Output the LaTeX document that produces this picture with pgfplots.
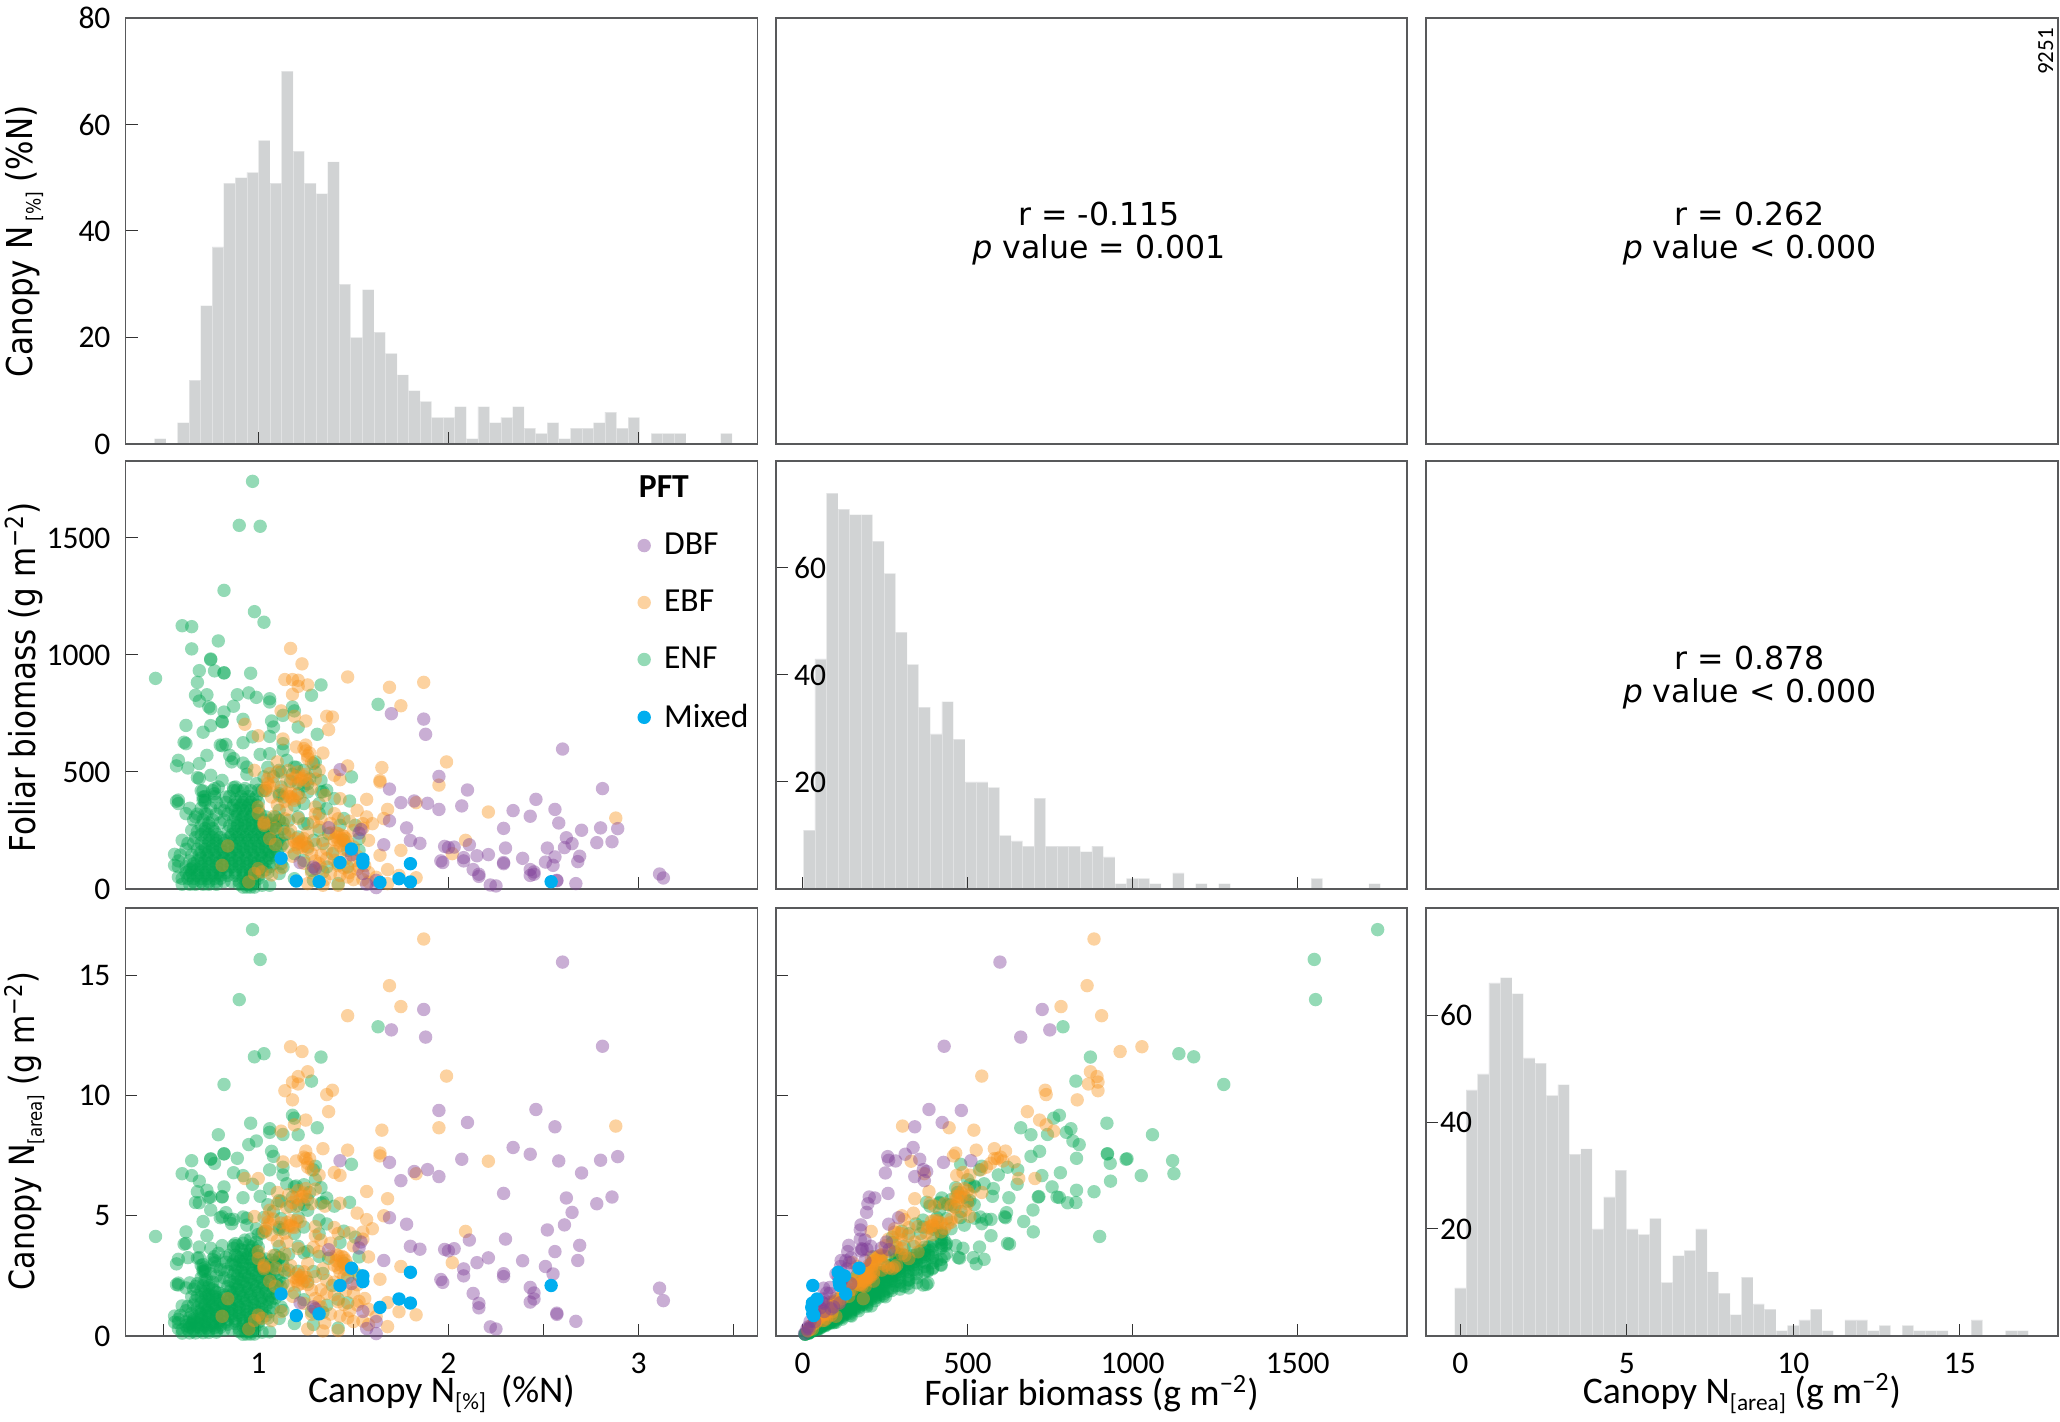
\documentclass[border=0pt]{standalone}
\usepackage{fontspec}
\usepackage{graphicx}
\usepackage{pgfplots}
\usepackage{pgfplotstable}
\pgfplotsset{compat=1.18}
\setmainfont{Carlito}
\newfontfamily\dejavu{DejaVu Sans}

\definecolor{histgrey}{HTML}{D1D3D4}
\definecolor{axgrey}{HTML}{58595B}
\definecolor{dbfcol}{HTML}{7F3F98}
\definecolor{ebfcol}{HTML}{F7941D}
\definecolor{enfcol}{HTML}{00A651}
\definecolor{mixcol}{HTML}{00AEEF}

% columns: canopy N %, foliar biomass, canopy N area
\pgfplotstableread[row sep=\\]{
n b a\\
0.97 1742 16.90\\ 0.90 1554 13.99\\ 1.01 1550 15.66\\ 0.82 1276 10.46\\ 0.98 1185 11.61\\ 1.03 1140 11.74\\
0.60 1125 6.75\\ 0.65 1121 7.29\\ 0.79 1060 8.37\\ 0.65 1026 6.67\\ 0.75 980 7.35\\ 0.75 983 7.37\\
0.69 933 6.44\\ 0.77 932 7.18\\ 0.82 923 7.57\\ 0.82 924 7.58\\ 0.96 922 8.85\\ 0.46 900 4.14\\
0.68 883 6.00\\ 1.33 872 11.60\\ 0.67 828 5.55\\ 0.73 830 6.06\\ 0.89 830 7.39\\ 0.95 838 7.96\\
0.99 819 8.11\\ 1.06 813 8.62\\ 1.06 799 8.47\\ 1.28 828 10.60\\ 0.69 803 5.54\\ 0.74 778 5.76\\
0.75 771 5.78\\ 0.82 756 6.20\\ 0.87 781 6.79\\ 1.63 789 12.86\\ 1.18 778 9.18\\ 1.19 761 9.06\\
0.92 725 6.67\\ 1.07 718 7.68\\ 0.81 714 5.78\\ 0.81 716 5.80\\ 0.62 699 4.33\\ 0.75 698 5.24\\
1.13 742 8.38\\ 1.21 692 8.37\\ 1.08 692 7.47\\ 0.71 670 4.76\\ 0.97 650 6.31\\ 0.92 625 5.75\\
1.31 661 8.66\\ 1.06 652 6.91\\ 0.61 627 3.82\\ 0.62 621 3.85\\ 0.80 615 4.92\\ 0.83 618 5.13\\
0.81 612 4.96\\ 1.13 621 7.02\\ 0.73 571 4.17\\ 0.85 571 4.85\\ 0.58 550 3.19\\ 0.69 536 3.70\\
0.57 526 3.00\\ 0.63 517 3.26\\ 0.87 557 4.85\\ 0.86 543 4.67\\ 0.92 538 4.95\\ 0.94 521 4.90\\
1.01 575 5.81\\ 1.06 578 6.13\\ 1.13 593 6.70\\ 1.29 536 6.91\\ 0.68 476 3.24\\ 0.69 472 3.26\\
0.75 486 3.65\\ 0.81 464 3.76\\ 0.94 490 4.61\\ 1.12 500 5.60\\ 1.49 479 7.14\\ 1.33 464 6.17\\
0.87 433 3.77\\ 0.89 422 3.76\\ 0.71 419 2.97\\ 0.77 429 3.30\\ 0.77 407 3.13\\ 0.57 375 2.14\\
0.58 380 2.20\\ 0.71 379 2.69\\ 1.34 415 5.56\\ 1.40 386 5.40\\ 1.48 376 5.56\\ 1.45 301 4.36\\
1.51 272 4.11\\ 1.32 322 4.25\\ 1.24 365 4.53\\ 1.26 415 5.23\\ 1.21 407 4.92\\ 1.12 436 4.88\\
1.11 336 3.73\\ 1.11 293 3.25\\ 1.16 236 2.74\\ 1.24 279 3.46\\ 1.29 208 2.68\\ 1.34 194 2.60\\
1.43 272 3.89\\ 1.53 215 3.29\\ 1.47 165 2.43\\ 1.36 94 1.28\\ 1.42 23 0.33\\ 1.06 16 0.17\\
1.02 16 0.16\\ 1.28 80 1.02\\ 1.11 66 0.73\\ 1.12 108 1.21\\ 1.07 144 1.54\\ 1.11 400 4.44\\
1.20 520 6.24\\ 1.17 460 5.38\\ 1.08 480 5.18\\ 1.05 520 5.46\\ 1.15 550 6.33\\ 1.18 490 5.78\\
1.24 440 5.46\\ 1.27 470 5.97\\ 1.30 500 6.50\\
0.60 20 0.12\\ 0.64 20 0.13\\ 0.67 20 0.13\\ 0.71 20 0.14\\ 0.74 20 0.15\\ 0.78 20 0.16\\ 0.90 20 0.18\\ 0.93 20 0.19\\ 0.95 20 0.19\\ 0.97 20 0.19\\
0.60 45 0.27\\ 0.63 45 0.28\\ 0.66 45 0.30\\ 0.70 45 0.32\\ 0.73 45 0.33\\ 0.77 45 0.35\\ 0.80 45 0.36\\ 0.92 45 0.41\\ 0.95 45 0.43\\ 0.97 45 0.44\\ 1.00 45 0.45\\
0.62 70 0.43\\ 0.65 70 0.46\\ 0.69 70 0.48\\ 0.72 70 0.50\\ 0.76 70 0.53\\ 0.79 70 0.55\\ 0.83 70 0.58\\ 0.88 70 0.62\\ 0.92 70 0.64\\ 0.96 70 0.67\\ 1.00 70 0.70\\ 1.05 70 0.74\\
0.58 95 0.55\\ 0.62 95 0.59\\ 0.66 95 0.63\\ 0.70 95 0.67\\ 0.74 95 0.70\\ 0.78 95 0.74\\ 0.82 95 0.78\\ 0.86 95 0.82\\ 0.90 95 0.86\\ 0.94 95 0.89\\ 0.98 95 0.93\\ 1.02 95 0.97\\ 1.06 95 1.01\\
0.58 120 0.70\\ 0.64 120 0.77\\ 0.68 120 0.82\\ 0.72 120 0.86\\ 0.76 120 0.91\\ 0.80 120 0.96\\ 0.84 120 1.01\\ 0.88 120 1.06\\ 0.92 120 1.10\\ 0.96 120 1.15\\ 1.00 120 1.20\\ 1.04 120 1.25\\
0.59 145 0.86\\ 0.65 145 0.94\\ 0.69 145 1.00\\ 0.73 145 1.06\\ 0.77 145 1.12\\ 0.81 145 1.17\\ 0.85 145 1.23\\ 0.89 145 1.29\\ 0.93 145 1.35\\ 0.97 145 1.41\\ 1.01 145 1.46\\ 1.05 145 1.52\\ 1.09 145 1.58\\
0.62 170 1.05\\ 0.68 170 1.16\\ 0.72 170 1.22\\ 0.76 170 1.29\\ 0.80 170 1.36\\ 0.84 170 1.43\\ 0.88 170 1.50\\ 0.92 170 1.56\\ 0.96 170 1.63\\ 1.00 170 1.70\\ 1.04 170 1.77\\
0.63 195 1.23\\ 0.66 195 1.29\\ 0.70 195 1.37\\ 0.74 195 1.44\\ 0.78 195 1.52\\ 0.82 195 1.60\\ 0.86 195 1.68\\ 0.90 195 1.76\\ 0.94 195 1.83\\ 0.98 195 1.91\\ 1.02 195 1.99\\ 1.06 195 2.07\\ 1.10 195 2.15\\
0.67 220 1.47\\ 0.72 220 1.58\\ 0.76 220 1.67\\ 0.80 220 1.76\\ 0.85 220 1.87\\ 0.89 220 1.96\\ 0.93 220 2.05\\ 0.97 220 2.13\\ 1.01 220 2.22\\ 1.05 220 2.31\\
0.68 245 1.67\\ 0.72 245 1.76\\ 0.77 245 1.89\\ 0.84 245 2.06\\ 0.88 245 2.16\\ 0.92 245 2.25\\ 0.96 245 2.35\\ 1.00 245 2.45\\ 1.04 245 2.55\\ 1.08 245 2.65\\
0.70 270 1.89\\ 0.74 270 2.00\\ 0.85 270 2.30\\ 0.89 270 2.40\\ 0.93 270 2.51\\ 0.97 270 2.62\\ 1.01 270 2.73\\ 1.05 270 2.84\\ 1.09 270 2.94\\
0.66 295 1.95\\ 0.71 295 2.09\\ 0.76 295 2.24\\ 0.82 295 2.42\\ 0.87 295 2.57\\ 0.91 295 2.68\\ 0.95 295 2.80\\ 0.99 295 2.92\\ 1.03 295 3.04\\ 1.07 295 3.16\\ 1.11 295 3.27\\
0.68 320 2.18\\ 0.73 320 2.34\\ 0.78 320 2.50\\ 0.84 320 2.69\\ 0.89 320 2.85\\ 0.93 320 2.98\\ 0.97 320 3.10\\ 1.01 320 3.23\\
0.64 345 2.21\\ 0.70 345 2.42\\ 0.75 345 2.59\\ 0.80 345 2.76\\ 0.86 345 2.97\\ 0.90 345 3.11\\ 0.94 345 3.24\\ 0.98 345 3.38\\
0.72 370 2.66\\ 0.78 370 2.89\\ 0.83 370 3.07\\ 0.89 370 3.29\\ 0.92 370 3.40\\ 0.96 370 3.55\\ 1.00 370 3.70\\
0.72 395 2.84\\ 0.77 395 3.04\\ 0.85 395 3.36\\ 0.91 395 3.59\\ 0.95 395 3.75\\ 0.99 395 3.91\\
0.70 420 2.94\\ 0.76 420 3.19\\ 0.87 420 3.65\\ 0.92 420 3.86\\ 0.96 420 4.03\\ 1.02 420 4.28\\ 1.04 420 4.37\\
0.92 8 0.07\\ 0.94 8 0.08\\ 0.96 8 0.08\\ 0.98 8 0.08\\
0.66 32 0.21\\ 0.70 32 0.22\\ 0.74 32 0.24\\ 0.78 32 0.25\\ 0.82 32 0.26\\ 0.86 32 0.28\\ 0.90 32 0.29\\ 0.94 32 0.30\\ 0.98 32 0.31\\
0.64 58 0.37\\ 0.68 58 0.39\\ 0.72 58 0.42\\ 0.76 58 0.44\\ 0.80 58 0.46\\ 0.84 58 0.49\\ 0.88 58 0.51\\ 0.92 58 0.53\\ 0.96 58 0.56\\ 1.00 58 0.58\\
0.64 82 0.52\\ 0.68 82 0.56\\ 0.72 82 0.59\\ 0.76 82 0.62\\ 0.80 82 0.66\\ 0.84 82 0.69\\ 0.88 82 0.72\\ 0.92 82 0.75\\ 0.96 82 0.79\\ 1.00 82 0.82\\ 1.04 82 0.85\\
0.66 108 0.71\\ 0.70 108 0.76\\ 0.74 108 0.80\\ 0.78 108 0.84\\ 0.82 108 0.89\\ 0.86 108 0.93\\ 0.90 108 0.97\\ 0.94 108 1.02\\ 0.98 108 1.06\\ 1.02 108 1.10\\ 1.08 108 1.17\\
0.70 132 0.92\\ 0.74 132 0.98\\ 0.78 132 1.03\\ 0.82 132 1.08\\ 0.86 132 1.14\\ 0.90 132 1.19\\ 0.94 132 1.24\\ 0.98 132 1.29\\ 1.02 132 1.35\\ 1.06 132 1.40\\
0.70 158 1.11\\ 0.74 158 1.17\\ 0.78 158 1.23\\ 0.82 158 1.30\\ 0.86 158 1.36\\ 0.90 158 1.42\\ 0.94 158 1.49\\ 0.98 158 1.55\\ 1.02 158 1.61\\ 1.06 158 1.67\\ 1.10 158 1.74\\
0.72 182 1.31\\ 0.76 182 1.38\\ 0.80 182 1.46\\ 0.84 182 1.53\\ 0.88 182 1.60\\ 0.92 182 1.67\\ 0.96 182 1.75\\ 1.00 182 1.82\\ 1.04 182 1.89\\ 1.08 182 1.97\\ 1.12 182 2.04\\
0.74 208 1.54\\ 0.78 208 1.62\\ 0.82 208 1.71\\ 0.87 208 1.81\\ 0.91 208 1.89\\ 0.95 208 1.98\\ 0.99 208 2.06\\ 1.03 208 2.14\\ 1.07 208 2.23\\ 1.11 208 2.31\\
0.70 232 1.62\\ 0.74 232 1.72\\ 0.78 232 1.81\\ 0.86 232 2.00\\ 0.90 232 2.09\\ 0.94 232 2.18\\ 0.98 232 2.27\\ 1.02 232 2.37\\ 1.06 232 2.46\\ 1.10 232 2.55\\ 1.14 232 2.64\\
0.72 258 1.86\\ 0.76 258 1.96\\ 0.87 258 2.24\\ 0.91 258 2.35\\ 0.95 258 2.45\\ 0.99 258 2.55\\ 1.03 258 2.66\\ 1.07 258 2.76\\ 1.13 258 2.92\\
0.74 282 2.09\\ 0.80 282 2.26\\ 0.89 282 2.51\\ 0.93 282 2.62\\ 0.97 282 2.74\\ 1.01 282 2.85\\ 1.05 282 2.96\\ 1.09 282 3.07\\ 1.13 282 3.19\\
0.88 308 2.71\\ 0.92 308 2.83\\ 0.96 308 2.96\\ 1.00 308 3.08\\ 1.04 308 3.20\\ 1.09 308 3.36\\
0.82 335 2.75\\ 0.88 335 2.95\\ 0.92 335 3.08\\ 0.96 335 3.22\\ 1.00 335 3.35\\
0.87 358 3.11\\ 0.91 358 3.26\\ 0.95 358 3.40\\ 0.99 358 3.54\\
0.88 382 3.36\\ 0.93 382 3.55\\ 0.97 382 3.71\\
0.79 436 3.44\\ 0.72 379 2.73\\ 0.83 393 3.26\\ 0.88 436 3.84\\ 0.93 429 3.99\\ 0.99 450 4.46\\ 1.03 479 4.93\\ 1.00 422 4.22\\
1.11 507 5.63\\ 1.19 521 6.20\\ 1.24 507 6.29\\ 1.30 543 7.06\\ 1.21 450 5.45\\ 1.26 450 5.67\\ 1.33 415 5.52\\ 1.36 422 5.74\\
1.32 365 4.82\\ 1.36 343 4.66\\ 1.13 393 4.44\\ 1.19 358 4.26\\ 1.11 407 4.52\\ 1.21 308 3.73\\ 1.26 279 3.52\\ 1.16 293 3.40\\
1.32 251 3.31\\ 1.37 236 3.23\\ 1.21 222 2.69\\ 1.26 179 2.26\\ 1.13 194 2.19\\ 1.19 151 1.80\\ 1.24 122 1.51\\ 1.13 94 1.06\\
1.19 44 0.52\\ 1.29 37 0.48\\ 1.34 73 0.98\\ 1.42 108 1.53\\ 1.47 94 1.38\\ 1.45 208 3.02\\ 1.39 151 2.10\\ 1.53 165 2.52\\
0.58 365 2.12\\ 0.62 322 2.00\\ 0.67 308 2.06\\ 0.72 322 2.32\\ 0.65 251 1.63\\ 0.60 208 1.25\\ 0.56 148 0.83\\ 0.56 101 0.57\\
0.58 51 0.30\\ 0.65 87 0.57\\ 0.71 393 2.79\\
}\enfdata

\pgfplotstableread[row sep=\\]{
n b a\\
1.17 1028 12.03\\ 1.23 962 11.83\\ 1.47 906 13.32\\ 1.87 883 16.51\\ 1.69 862 14.57\\ 1.75 783 13.70\\
1.14 895 10.20\\ 1.18 895 10.56\\ 1.21 892 10.79\\ 1.21 866 10.48\\ 1.26 872 10.99\\ 1.18 832 9.82\\
1.12 761 8.52\\ 1.19 738 8.78\\ 1.25 718 8.98\\ 1.36 738 10.04\\ 1.39 735 10.22\\ 1.37 681 9.33\\
0.93 704 6.55\\ 1.00 655 6.55\\ 1.13 641 7.24\\ 1.20 607 7.28\\ 1.25 615 7.69\\ 1.27 581 7.38\\
1.34 581 7.79\\ 1.26 557 7.02\\ 0.98 507 4.97\\ 1.10 543 5.97\\ 1.47 526 7.73\\ 1.65 519 8.56\\
1.99 543 10.81\\ 1.64 464 7.61\\ 1.64 457 7.49\\ 1.95 444 8.66\\ 1.43 467 6.68\\ 1.40 486 6.80\\
1.32 507 6.69\\ 1.16 507 5.88\\ 1.23 472 5.81\\ 1.25 464 5.80\\ 1.15 464 5.34\\ 1.05 450 4.73\\
1.06 493 5.23\\ 1.17 393 4.60\\ 1.19 379 4.51\\ 1.07 393 4.21\\ 1.00 350 3.50\\ 1.43 386 5.52\\
1.57 383 6.01\\ 1.83 369 6.75\\ 1.68 340 5.71\\ 1.52 336 5.11\\ 2.21 329 7.27\\ 1.57 308 4.84\\
1.66 301 5.00\\ 2.88 303 8.73\\ 1.60 279 4.46\\ 1.55 279 4.32\\ 1.40 322 4.51\\ 1.21 301 3.64\\
1.29 286 3.69\\ 1.03 279 2.87\\ 1.03 272 2.80\\ 1.32 265 3.50\\ 1.42 236 3.35\\ 1.44 215 3.10\\
1.43 207 2.96\\ 1.46 190 2.77\\ 1.45 225 3.26\\ 1.41 222 3.13\\ 1.47 200 2.94\\ 1.20 215 2.58\\
1.22 200 2.44\\ 1.24 185 2.29\\ 1.21 195 2.36\\ 1.23 178 2.19\\ 2.09 208 4.35\\ 2.02 151 3.05\\
1.75 165 2.89\\ 1.58 208 3.29\\ 1.64 144 2.36\\ 1.34 208 2.79\\ 1.33 144 1.92\\ 1.40 123 1.72\\
1.32 108 1.43\\ 1.38 66 0.91\\ 1.43 58 0.83\\ 1.68 83 1.39\\ 1.83 48 0.88\\ 1.74 58 1.01\\
1.68 23 0.39\\ 1.53 94 1.44\\ 1.47 51 0.75\\ 1.42 16 0.23\\ 1.34 16 0.21\\ 1.26 23 0.29\\
0.98 66 0.65\\ 1.02 73 0.74\\ 0.95 30 0.29\\ 1.00 87 0.87\\ 0.84 184 1.55\\ 0.81 101 0.82\\
1.06 215 2.28\\ 1.00 322 3.22\\ 1.12 420 4.70\\ 1.20 450 5.40\\ 1.28 430 5.50\\ 1.17 410 4.80\\
1.22 390 4.76\\ 1.10 360 3.96\\ 1.15 340 3.91\\ 1.30 350 4.55\\ 1.35 400 5.40\\ 1.30 470 6.11\\
1.03 420 4.33\\ 1.08 310 3.35\\ 1.17 250 2.93\\ 1.26 240 3.02\\ 1.30 190 2.47\\ 1.36 170 2.31\\
1.28 150 1.92\\ 1.40 160 2.24\\ 1.50 180 2.70\\ 1.52 140 2.13\\ 1.56 100 1.56\\ 1.58 70 1.11\\
1.50 120 1.80\\ 1.45 90 1.31\\ 1.62 50 0.81\\ 1.18 140 1.65\\ 1.24 110 1.36\\ 1.28 70 0.90\\
1.12 90 1.01\\ 1.07 60 0.64\\ 1.35 40 0.54\\ 1.55 40 0.62\\
1.20 190 2.28\\ 1.23 205 2.52\\ 1.25 195 2.44\\ 1.21 175 2.12\\ 1.24 215 2.67\\ 1.19 205 2.44\\
1.42 200 2.84\\ 1.44 230 3.31\\ 1.46 215 3.14\\ 1.40 210 2.94\\ 1.43 185 2.65\\ 1.45 170 2.47\\ 1.41 240 3.38\\
1.20 480 5.76\\ 1.22 465 5.67\\ 1.24 480 5.95\\ 1.18 470 5.55\\ 1.25 490 6.13\\ 1.21 500 6.05\\
1.16 395 4.58\\ 1.18 385 4.54\\ 1.15 410 4.72\\ 1.20 400 4.80\\ 1.14 375 4.28\\
1.05 470 4.94\\ 1.06 440 4.66\\ 1.04 430 4.47\\ 1.08 450 4.86\\ 1.10 500 5.50\\
1.26 570 7.18\\ 1.25 590 7.38\\ 1.24 600 7.44\\ 1.28 540 6.91\\ 1.03 285 2.94\\
1.30 320 4.16\\ 1.33 300 3.99\\ 1.38 280 3.86\\ 1.42 300 4.26\\ 1.48 290 4.29\\ 1.55 260 4.03\\ 1.50 250 3.75\\ 1.38 240 3.31\\
1.48 70 1.04\\ 1.50 40 0.60\\ 1.52 85 1.29\\ 1.58 30 0.47\\ 1.46 130 1.90\\ 1.33 90 1.20\\ 1.30 120 1.56\\ 1.36 130 1.77\\
1.42 100 1.42\\ 1.26 170 2.14\\ 1.16 180 2.09\\ 1.09 190 2.07\\ 1.14 240 2.74\\ 1.09 260 2.83\\ 1.14 300 3.42\\
}\ebfdata

\pgfplotstableread[row sep=\\]{
n b a\\
1.70 749 12.73\\ 1.87 726 13.58\\ 1.88 661 12.43\\ 2.60 598 15.55\\ 2.81 429 12.05\\ 1.95 481 9.38\\
2.10 423 8.88\\ 1.69 427 7.22\\ 1.43 510 7.29\\ 1.75 369 6.46\\ 1.82 376 6.84\\ 1.89 366 6.92\\
1.95 340 6.63\\ 2.07 355 7.35\\ 2.34 335 7.84\\ 2.46 383 9.42\\ 2.56 340 8.70\\ 2.43 311 7.56\\
2.58 282 7.28\\ 2.29 259 5.93\\ 2.70 251 6.78\\ 2.80 261 7.31\\ 2.89 258 7.46\\ 1.69 291 4.92\\
1.78 261 4.65\\ 1.37 262 3.59\\ 1.54 254 3.91\\ 1.53 239 3.66\\ 1.80 207 3.73\\ 1.85 195 3.61\\
1.66 189 3.14\\ 1.98 182 3.60\\ 2.00 177 3.54\\ 2.03 179 3.63\\ 2.11 189 3.99\\ 2.62 219 5.74\\
2.61 177 4.62\\ 2.65 194 5.14\\ 2.78 198 5.50\\ 2.86 202 5.78\\ 2.30 175 4.03\\ 2.52 175 4.41\\
2.08 134 2.79\\ 2.15 142 3.05\\ 2.21 147 3.25\\ 2.39 131 3.13\\ 2.69 140 3.77\\ 2.56 137 3.51\\
2.51 115 2.89\\ 2.55 101 2.58\\ 2.68 117 3.14\\ 1.97 113 2.23\\ 1.96 120 2.35\\ 2.08 120 2.50\\
2.29 113 2.59\\ 2.29 108 2.47\\ 2.13 83 1.77\\ 2.16 63 1.36\\ 2.16 54 1.17\\ 2.43 83 2.02\\
2.45 73 1.79\\ 2.45 63 1.54\\ 2.43 58 1.41\\ 2.57 37 0.95\\ 2.57 35 0.90\\ 2.67 23 0.61\\
2.22 17 0.38\\ 2.25 13 0.29\\ 3.11 64 1.99\\ 3.13 47 1.47\\ 1.22 113 1.38\\ 1.29 94 1.21\\
1.30 87 1.13\\ 1.55 66 1.02\\ 1.57 20 0.31\\ 1.62 6 0.10\\ 1.62 37 0.60\\ 1.49 146 2.18\\
}\dbfdata

\pgfplotstableread[row sep=\\]{
n b a\\
1.12 131 1.75\\ 1.20 34 0.85\\ 1.32 31 0.92\\ 1.43 113 2.10\\ 1.49 171 2.82\\ 1.55 127 2.50\\
1.55 111 2.26\\ 1.64 28 1.19\\ 1.74 44 1.54\\ 1.80 108 2.65\\ 1.80 30 1.37\\ 2.54 31 2.10\\
}\mixdata

\newcommand{\tickfont}{\fontsize{15.75}{18}\selectfont}
\newcommand{\xlabfont}{\fontsize{18.8}{21}\selectfont}
\newcommand{\ylabfont}{\dejavu\fontsize{15.5}{18}\selectfont}
\newcommand{\rfont}{\dejavu\fontsize{15.8}{16.5}\selectfont}
\newcommand{\sub}[1]{\raisebox{-0.4ex}{\scalebox{0.62}{#1}}}
\newcommand{\ysub}[1]{\raisebox{-0.4ex}{\scalebox{0.55}{#1}}}
\newcommand{\ylab}[1]{\scalebox{1}[1.15]{#1}}
\newcommand{\rtext}[2]{r = #1\\{\itshape p} value #2}

\pgfplotsset{
  panel/.style={
    scale only axis, width=316pt, height=214pt,
    anchor=south west,
    axis line style={color=axgrey, line width=0.8pt},
    xtick pos=bottom, ytick pos=left,
    tick align=inside,
    major tick length=6pt, minor tick length=0pt,
    tick style={color=black!80, line width=0.5pt},
    tick label style={font=\tickfont},
    /pgf/number format/assume math mode=true,
    /pgf/number format/1000 sep={},
    xticklabel style={yshift=-5pt},
    yticklabel style={xshift=-4pt},
    axis on top,
    clip=true,
  },
  hist/.style={ybar interval, fill=histgrey, draw=white, draw opacity=0.35, line width=0.3pt},
  ENF/.style={only marks, mark=*, mark size=3.35pt, mark options={draw opacity=0, fill=enfcol, fill opacity=0.42}},
  EBF/.style={only marks, mark=*, mark size=3.35pt, mark options={draw opacity=0, fill=ebfcol, fill opacity=0.42}},
  DBF/.style={only marks, mark=*, mark size=3.35pt, mark options={draw opacity=0, fill=dbfcol, fill opacity=0.42}},
  MIX/.style={only marks, mark=*, mark size=3.35pt, mark options={draw opacity=0, fill=mixcol}},
  xlab/.style={x label style={at={(axis description cs:0.5,-0.135)}, anchor=center, font=\xlabfont}},
  ylab/.style={y label style={at={(axis description cs:-0.16,#1)}, anchor=center, rotate=0, font=\ylabfont}},
}

\begin{document}
\begin{tikzpicture}
\useasboundingbox (0,0) rectangle (1030pt,711pt);

% row 1
\begin{axis}[panel, at={(62.75pt,489pt)}, height=213pt,
  xmin=0.302, xmax=3.625, ymin=0, ymax=80,
  xtick={1,2,3}, xticklabels={},
  ytick={0,20,40,60,80},
  ylabel={\ylab{Canopy N\,\ysub{[\%]} (\%N)}}, ylab=0.476]
\addplot[hist] coordinates {(0.454,1)(0.514,0)(0.575,4)(0.636,12)(0.697,26)(0.757,37)(0.818,49)(0.879,50)(0.940,51)(1.000,57)
(1.061,49)(1.122,70)(1.183,55)(1.243,49)(1.304,47)(1.365,53)(1.426,30)(1.486,20)(1.547,29)(1.608,21)
(1.669,17)(1.730,13)(1.790,10)(1.851,8)(1.912,5)(1.973,5)(2.033,7)(2.094,1)(2.155,7)(2.216,4)
(2.276,5)(2.337,7)(2.398,3)(2.459,2)(2.519,4)(2.580,1)(2.641,3)(2.702,3)(2.762,4)(2.823,6)
(2.884,3)(2.945,5)(3.005,0)(3.066,2)(3.127,2)(3.188,2)(3.248,0)(3.309,0)(3.370,0)(3.431,2)(3.491,2)};
\end{axis}

\begin{axis}[panel, at={(388pt,489pt)}, height=213pt, width=315.5pt,
  xmin=0, xmax=1, ymin=0, ymax=1, xtick=\empty, ytick=\empty]
\node[align=center, font=\rfont] at (axis description cs:0.512,0.494) {\rtext{-0.115}{= 0.001}};
\end{axis}

\begin{axis}[panel, at={(713pt,489pt)}, height=213pt,
  xmin=0, xmax=1, ymin=0, ymax=1, xtick=\empty, ytick=\empty]
\node[align=center, font=\rfont] at (axis description cs:0.512,0.494) {\rtext{0.262}{< 0.000}};
\node[rotate=90, anchor=south east, inner sep=0pt, font=\fontsize{11.5}{13}\selectfont] at (axis description cs:0.993,0.977) {9251};
\end{axis}

% row 2
\begin{axis}[panel, at={(62.75pt,266.5pt)},
  xmin=0.302, xmax=3.625, ymin=0, ymax=1829,
  xtick={1,2,3}, xticklabels={},
  ytick={0,500,1000,1500},
  ylabel={\ylab{Foliar biomass (g m\textsuperscript{−2})}}, ylab=0.494,
  legend style={draw=none, fill=none, at={(axis description cs:0.7937,0.974)}, anchor=north west,
    font=\fontsize{16.8}{19}\selectfont, row sep=12.2pt, inner sep=0pt, outer sep=0pt},
  legend cell align=left]
\addplot[ENF, forget plot] table[x=n, y=b] {\enfdata};
\addplot[EBF, forget plot] table[x=n, y=b] {\ebfdata};
\addplot[DBF, forget plot] table[x=n, y=b] {\dbfdata};
\addplot[MIX, forget plot] table[x=n, y=b] {\mixdata};
\addlegendimage{empty legend}
\addlegendentry{\hspace*{-8pt}\textbf{PFT}}
\addlegendimage{DBF}
\addlegendentry{\hspace*{4.6pt}DBF}
\addlegendimage{EBF}
\addlegendentry{\hspace*{4.6pt}EBF}
\addlegendimage{ENF}
\addlegendentry{\hspace*{4.6pt}ENF}
\addlegendimage{MIX}
\addlegendentry{\hspace*{4.6pt}Mixed}
\end{axis}

\begin{axis}[panel, at={(388pt,266.5pt)}, width=315.5pt,
  xmin=-80.3, xmax=1831, ymin=0, ymax=80,
  xtick={0,500,1000,1500}, xticklabels={},
  ytick={0,20,40,60,80}, yticklabels={,20,40,60,},
  yticklabel style={anchor=west, xshift=9.5pt}]
\addplot[hist] coordinates {(2.5,11)(37.5,43)(72.4,74)(107.4,71)(142.3,70)(177.3,70)(212.2,65)(247.2,59)(282.1,48)(317.1,42)
(352.0,34)(387.0,29)(421.9,35)(456.9,28)(491.8,20)(526.8,20)(561.7,19)(596.7,10)(631.6,9)(666.6,8)
(701.5,17)(736.5,8)(771.4,8)(806.4,8)(841.3,7)(876.3,8)(911.2,6)(946.2,1)(981.1,2)(1016.1,2)
(1051.0,1)(1086.0,0)(1120.9,3)(1155.9,0)(1190.8,1)(1225.8,0)(1260.7,1)(1295.7,0)(1330.6,0)(1365.6,0)
(1400.5,0)(1435.5,0)(1470.4,0)(1505.4,0)(1540.3,2)(1575.3,0)(1610.2,0)(1645.2,0)(1680.1,0)(1715.1,1)(1750.0,1)};
\end{axis}

\begin{axis}[panel, at={(713pt,266.5pt)},
  xmin=0, xmax=1, ymin=0, ymax=1, xtick=\empty, ytick=\empty]
\node[align=center, font=\rfont] at (axis description cs:0.512,0.494) {\rtext{0.878}{< 0.000}};
\end{axis}

% row 3
\begin{axis}[panel, at={(62.75pt,43pt)},
  xmin=0.302, xmax=3.625, ymin=0, ymax=17.8,
  xtick={0.5,1,1.5,2,2.5,3,3.5}, xticklabels={,1,,2,,3,},
  ytick={0,5,10,15},
  xlabel={Canopy N\sub{[\%]} \,(\%N)}, xlab,
  ylabel={\scalebox{0.97}[1.12]{Canopy N\ysub{[area]} (g m\textsuperscript{−2})}}, ylab=0.479]
\addplot[ENF] table[x=n, y=a] {\enfdata};
\addplot[EBF] table[x=n, y=a] {\ebfdata};
\addplot[DBF] table[x=n, y=a] {\dbfdata};
\addplot[MIX] table[x=n, y=a] {\mixdata};
\end{axis}

\begin{axis}[panel, at={(388pt,43pt)}, width=315.5pt,
  xmin=-80.3, xmax=1831, ymin=0, ymax=17.8,
  xtick={0,500,1000,1500},
  ytick={0,5,10,15}, yticklabels={},
  xlabel={Foliar biomass (g m\textsuperscript{−2})}, xlab]
\addplot[ENF] table[x=b, y=a] {\enfdata};
\addplot[EBF] table[x=b, y=a] {\ebfdata};
\addplot[DBF] table[x=b, y=a] {\dbfdata};
\addplot[MIX] table[x=b, y=a] {\mixdata};
\end{axis}

\begin{axis}[panel, at={(713pt,43pt)},
  xmin=-1.03, xmax=17.95, ymin=0, ymax=80,
  xtick={0,5,10,15},
  ytick={0,20,40,60,80}, yticklabels={,20,40,60,},
  yticklabel style={anchor=west, xshift=7.5pt},
  xlabel={Canopy N\sub{[area]} (g m\textsuperscript{−2})}, xlab]
\addplot[hist] coordinates {(-0.174,9)(0.171,46)(0.515,49)(0.860,66)(1.205,67)(1.550,64)(1.894,52)(2.239,51)(2.584,45)(2.928,47)
(3.273,34)(3.618,35)(3.962,20)(4.307,26)(4.652,31)(4.997,20)(5.341,19)(5.686,22)(6.031,10)(6.375,15)
(6.720,16)(7.065,20)(7.409,12)(7.754,8)(8.099,4)(8.444,11)(8.788,6)(9.133,5)(9.478,1)(9.822,2)
(10.167,3)(10.512,5)(10.856,1)(11.201,0)(11.546,3)(11.891,3)(12.235,1)(12.580,2)(12.925,0)(13.269,2)
(13.614,1)(13.959,1)(14.303,1)(14.648,0)(14.993,0)(15.338,3)(15.682,0)(16.027,0)(16.372,1)(16.716,1)(17.061,1)};
\end{axis}
\end{tikzpicture}
\end{document}
